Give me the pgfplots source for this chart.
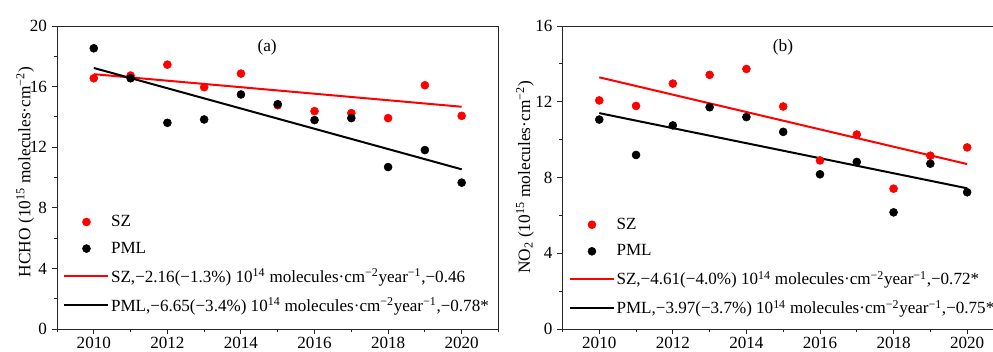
\documentclass[border=0pt]{standalone}
\usepackage{fontspec}
\setmainfont{Liberation Serif}
\usepackage{pgfplots}
\pgfplotsset{compat=1.18}
\pgfplotsset{
  panel/.style={
    scale only axis, width=331.1pt, height=227.25pt,
    xmin=2009, xmax=2021,
    xtick={2010,2012,...,2020}, minor xtick={2009,2011,...,2021},
    tick align=outside, xtick pos=bottom, ytick pos=left,
    major tick length=4pt, minor tick length=2.5pt,
    axis line style={line width=0.7pt, black!85},
    every tick/.style={line width=0.7pt, black!85},
    /pgf/number format/assume math mode=true,
    x tick label style={/pgf/number format/1000 sep={}, yshift=1.5pt},
    tick label style={font=\fontsize{12.8}{14}\selectfont},
    label style={font=\fontsize{13}{14}\selectfont},
    legend cell align=left,
    legend style={draw=none, fill=none, anchor=south west,
      font=\fontsize{12.8}{14}\selectfont, row sep=7.6pt,
      nodes={inner sep=1.2pt}},
    legend image code/.code={\draw[mark repeat=2,mark phase=2,##1] plot coordinates {(0pt,0pt) (16.5pt,0pt) (33pt,0pt)};},
    scat/.style={only marks, mark=*, mark size=3pt},
    trend/.style={no marks, line width=1.5pt},
  }
}
\begin{document}
\begin{tikzpicture}[x=1pt,y=1pt]
\useasboundingbox (-42.75,-16.5) rectangle (702,246.75);
\begin{axis}[panel, at={(0pt,0pt)}, anchor=south west,
  ymin=0, ymax=20, ytick={0,4,...,20}, minor ytick={2,6,...,18},
  ylabel={HCHO (10\textsuperscript{15} molecules·cm\textsuperscript{−2})},
  ylabel style={at={(axis description cs:-0.072,0.518)}, anchor=center},
  legend style={at={(axis description cs:0.005,0.037)}}]
\addplot[scat, red] coordinates {(2010,16.55) (2011,16.73) (2012,17.45) (2013,15.96) (2014,16.86) (2015,14.77) (2016,14.38) (2017,14.25) (2018,13.92) (2019,16.09) (2020,14.07)};
\addlegendentry{SZ}
\addplot[scat, black] coordinates {(2010,18.53) (2011,16.55) (2012,13.61) (2013,13.83) (2014,15.48) (2015,14.84) (2016,13.79) (2017,13.92) (2018,10.69) (2019,11.81) (2020,9.66)};
\addlegendentry{PML}
\addplot[trend, red] coordinates {(2010,16.82) (2020,14.67)};
\addlegendentry{SZ,−2.16(−1.3\%) 10\textsuperscript{14} molecules·cm\textsuperscript{−2}year\textsuperscript{−1},−0.46}
\addplot[trend, black] coordinates {(2010,17.23) (2020,10.54)};
\addlegendentry{PML,−6.65(−3.4\%) 10\textsuperscript{14} molecules·cm\textsuperscript{−2}year\textsuperscript{−1},−0.78*}
\node[font=\fontsize{13}{14}\selectfont] at (axis description cs:0.476,0.93) {(a)};
\end{axis}
\begin{axis}[panel, at={(379.1pt,0pt)}, anchor=south west,
  ymin=0, ymax=16, ytick={0,4,...,16}, minor ytick={2,6,...,14},
  ylabel={NO\textsubscript{2} (10\textsuperscript{15} molecules·cm\textsuperscript{−2})},
  ylabel style={at={(axis description cs:-0.085,0.5)}, anchor=center},
  legend style={at={(axis description cs:0.005,0.028)}}]
\addplot[scat, red] coordinates {(2010,12.07) (2011,11.78) (2012,12.96) (2013,13.42) (2014,13.73) (2015,11.75) (2016,8.90) (2017,10.27) (2018,7.41) (2019,9.15) (2020,9.59)};
\addlegendentry{SZ}
\addplot[scat, black] coordinates {(2010,11.06) (2011,9.19) (2012,10.75) (2013,11.71) (2014,11.19) (2015,10.41) (2016,8.17) (2017,8.82) (2018,6.16) (2019,8.73) (2020,7.22)};
\addlegendentry{PML}
\addplot[trend, red] coordinates {(2010,13.29) (2020,8.71)};
\addlegendentry{SZ,−4.61(−4.0\%) 10\textsuperscript{14} molecules·cm\textsuperscript{−2}year\textsuperscript{−1},−0.72*}
\addplot[trend, black] coordinates {(2010,11.40) (2020,7.43)};
\addlegendentry{PML,−3.97(−3.7\%) 10\textsuperscript{14} molecules·cm\textsuperscript{−2}year\textsuperscript{−1},−0.75*}
\node[font=\fontsize{13}{14}\selectfont] at (axis description cs:0.4995,0.93) {(b)};
\end{axis}
\end{tikzpicture}
\end{document}
